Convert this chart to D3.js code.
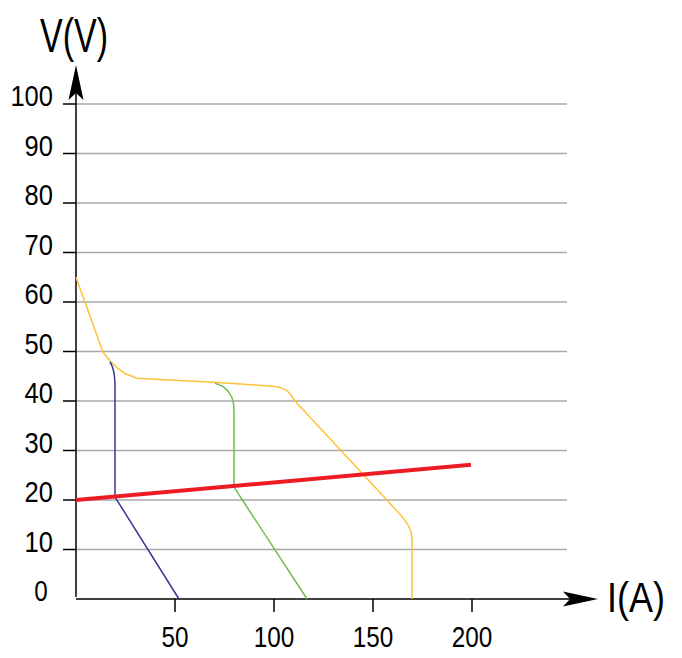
<!DOCTYPE html>
<html>
<head>
<meta charset="utf-8">
<script src="https://cdn.jsdelivr.net/npm/d3@7"></script>
<style>
  body { margin: 0; background: #fff; }
  svg { display: block; font-family: "Liberation Sans", Arial, sans-serif; }
</style>
</head>
<body>
<div id="chart"></div>
<script>
// tick labels
const xTicks = [50, 100, 150, 200];
const yTicks = [10, 20, 30, 40, 50, 60, 70, 80, 90, 100];

// curves, [I, V]
const yellowCurve = [[0, 65], [13.6, 49.9], [17, 48.2], [20.5, 46.8], [25, 45.5], [30.8, 44.6], [69.2, 43.8], [99.5, 43.0], [103.5, 42.7], [106.5, 42.1], [108.8, 41.1], [110.6, 40],
  [157, 20], [165.2, 16.4], [167.8, 14.9], [169.2, 13.6], [169.7, 12], [169.7, 0]];
const blueCurve = [[17.2, 47.9], [18.4, 46.9], [19.3, 45.5], [19.7, 43.5], [19.7, 20.6], [52, 0]];
const greenCurve = [[70.2, 43.6], [74, 43.0], [76.8, 42.0], [78.7, 40.8], [79.6, 39.4], [79.8, 37.5], [79.8, 22.6], [116.7, 0]];
const redLine = [[0, 20], [199.5, 27.1]];

const width = 682, height = 658;

const x = d3.scaleLinear().domain([0, 250]).range([76, 571]);
const y = d3.scaleLinear().domain([0, 100]).range([599, 104]);

const svg = d3.select("#chart")
  .append("svg")
  .attr("width", width)
  .attr("height", height);

// grid lines
svg.append("g")
  .selectAll("line")
  .data(yTicks)
  .enter()
  .append("line")
  .attr("x1", x(0))
  .attr("x2", 567)
  .attr("y1", d => y(d))
  .attr("y2", d => y(d))
  .attr("stroke", "#a8a8a8")
  .attr("stroke-width", 1.3);

// y tick marks + labels
svg.append("g")
  .selectAll("line")
  .data(yTicks)
  .enter()
  .append("line")
  .attr("x1", 63)
  .attr("x2", x(0))
  .attr("y1", d => y(d))
  .attr("y2", d => y(d))
  .attr("stroke", "#000")
  .attr("stroke-width", 1.5);

svg.append("g")
  .selectAll("text")
  .data(yTicks)
  .enter()
  .append("text")
  .attr("x", 53)
  .attr("y", d => y(d) + 2)
  .attr("text-anchor", "end")
  .attr("font-size", 30)
  .attr("textLength", d => String(d).length * 14.2)
  .attr("lengthAdjust", "spacingAndGlyphs")
  .text(d => d);

svg.append("text")
  .attr("x", 41)
  .attr("y", 601)
  .attr("text-anchor", "middle")
  .attr("font-size", 29)
  .attr("textLength", 13.5)
  .attr("lengthAdjust", "spacingAndGlyphs")
  .text("0");

// x tick marks + labels
svg.append("g")
  .selectAll("line")
  .data(xTicks)
  .enter()
  .append("line")
  .attr("x1", d => x(d))
  .attr("x2", d => x(d))
  .attr("y1", y(0))
  .attr("y2", 612)
  .attr("stroke", "#000")
  .attr("stroke-width", 1.5);

svg.append("g")
  .selectAll("text")
  .data(xTicks)
  .enter()
  .append("text")
  .attr("x", d => x(d))
  .attr("y", 647)
  .attr("text-anchor", "middle")
  .attr("font-size", 29)
  .attr("textLength", d => String(d).length * 13.5)
  .attr("lengthAdjust", "spacingAndGlyphs")
  .text(d => d);

// axes with arrows
svg.append("line")
  .attr("x1", x(0)).attr("x2", x(0))
  .attr("y1", 597).attr("y2", 80)
  .attr("stroke", "#000").attr("stroke-width", 1.5);
svg.append("path")
  .attr("d", `M${x(0)},65 L${x(0) + 7.5},100 L${x(0)},93 L${x(0) - 7.5},100 Z`)
  .attr("fill", "#000");

svg.append("line")
  .attr("x1", x(0)).attr("x2", 585)
  .attr("y1", y(0)).attr("y2", y(0))
  .attr("stroke", "#000").attr("stroke-width", 1.5);
svg.append("path")
  .attr("d", `M598,${y(0)} L563,${y(0) - 7.5} L570,${y(0)} L563,${y(0) + 7.5} Z`)
  .attr("fill", "#000");

// axis titles
svg.append("text")
  .attr("x", 40).attr("y", 52)
  .attr("font-size", 49)
  .attr("textLength", 68)
  .attr("lengthAdjust", "spacingAndGlyphs")
  .text("V(V)");

svg.append("text")
  .attr("x", 607).attr("y", 612)
  .attr("font-size", 43)
  .attr("textLength", 58)
  .attr("lengthAdjust", "spacingAndGlyphs")
  .text("I(A)");

// curves
const line = d3.line()
  .x(d => x(d[0]))
  .y(d => y(d[1]));

const series = [
  {data: yellowCurve, color: "#fcc13a", w: 1.5},
  {data: blueCurve, color: "#343896", w: 1.5},
  {data: greenCurve, color: "#6cbf4f", w: 1.5},
  {data: redLine, color: "#ed1c24", w: 4}
];

svg.append("g")
  .selectAll("path")
  .data(series)
  .enter()
  .append("path")
  .attr("fill", "none")
  .attr("stroke", d => d.color)
  .attr("stroke-width", d => d.w)
  .attr("stroke-linejoin", "round")
  .attr("d", d => line(d.data));
</script>
</body>
</html>
